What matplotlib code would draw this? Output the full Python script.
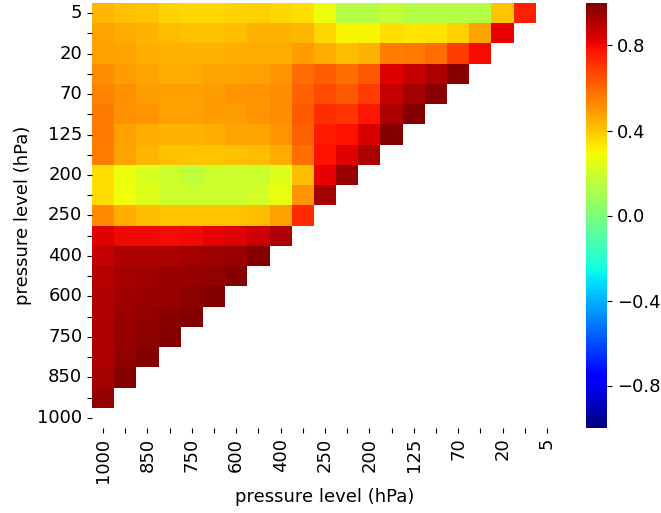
import numpy as np
import matplotlib
matplotlib.use("Agg")
import matplotlib.pyplot as plt
import seaborn as sns

# pressure levels, top row to bottom row (columns go the opposite way)
levels = [5, 10, 20, 50, 70, 100, 125, 150, 200, 225, 250, 300,
          400, 500, 600, 700, 750, 800, 850, 925, 1000]

# correlation values per row (row level), columns from 1000 hPa upward
r_5 = [0.43, 0.41, 0.40, 0.37, 0.36, 0.36, 0.37, 0.38, 0.36, 0.35,
       0.27, 0.14, 0.14, 0.17, 0.14, 0.14, 0.14, 0.14, 0.40, 0.75]
r_10 = [0.47, 0.46, 0.44, 0.42, 0.41, 0.41, 0.42, 0.44, 0.44, 0.43,
        0.36, 0.30, 0.30, 0.35, 0.33, 0.34, 0.38, 0.47, 0.82]
r_20 = [0.48, 0.47, 0.45, 0.44, 0.44, 0.44, 0.45, 0.46, 0.46, 0.49,
        0.46, 0.42, 0.44, 0.55, 0.56, 0.59, 0.69, 0.79]
r_50 = [0.52, 0.49, 0.47, 0.46, 0.46, 0.47, 0.47, 0.48, 0.50, 0.59,
        0.62, 0.58, 0.63, 0.83, 0.875, 0.92, 0.98]
r_70 = [0.54, 0.51, 0.49, 0.48, 0.48, 0.49, 0.50, 0.50, 0.52, 0.61,
        0.66, 0.63, 0.69, 0.875, 0.93, 0.98]
r_100 = [0.56, 0.51, 0.50, 0.48, 0.48, 0.49, 0.49, 0.50, 0.52, 0.63,
         0.72, 0.71, 0.77, 0.915, 0.99]
r_125 = [0.56, 0.48, 0.46, 0.44, 0.44, 0.45, 0.47, 0.47, 0.50, 0.61,
         0.76, 0.78, 0.84, 0.99]
r_150 = [0.55, 0.47, 0.43, 0.41, 0.40, 0.40, 0.41, 0.42, 0.46, 0.58,
         0.775, 0.83, 0.915]
r_200 = [0.35, 0.27, 0.22, 0.19, 0.16, 0.19, 0.19, 0.19, 0.24, 0.42,
         0.82, 0.96]
r_225 = [0.35, 0.28, 0.24, 0.19, 0.19, 0.19, 0.19, 0.21, 0.26, 0.50,
         0.93]
r_250 = [0.53, 0.45, 0.42, 0.40, 0.40, 0.40, 0.40, 0.42, 0.48, 0.73]
r_300 = [0.83, 0.80, 0.80, 0.79, 0.80, 0.82, 0.83, 0.86, 0.915]
r_400 = [0.875, 0.915, 0.92, 0.92, 0.935, 0.94, 0.96, 0.985]
r_500 = [0.90, 0.935, 0.94, 0.95, 0.955, 0.965, 0.985]
r_600 = [0.91, 0.94, 0.95, 0.955, 0.975, 0.985]
r_700 = [0.91, 0.95, 0.965, 0.98, 0.99]
r_750 = [0.92, 0.955, 0.975, 0.99]
r_800 = [0.92, 0.965, 0.985]
r_850 = [0.93, 0.99]
r_925 = [0.96]
r_1000 = []

rows = [r_5, r_10, r_20, r_50, r_70, r_100, r_125, r_150, r_200, r_225,
        r_250, r_300, r_400, r_500, r_600, r_700, r_750, r_800, r_850,
        r_925, r_1000]

n = len(levels)
mat = np.full((n, n), np.nan)
for i, row in enumerate(rows):
    mat[i, :len(row)] = row

ylabels = [str(l) if i % 2 == 0 else "" for i, l in enumerate(levels)]
xlevels = levels[::-1]
xlabels = [str(l) if i % 2 == 0 else "" for i, l in enumerate(xlevels)]

W, H = 661, 513
fig = plt.figure(figsize=(W / 100, H / 100), dpi=100)
ax = fig.add_axes([92 / W, (H - 428) / H, 466 / W, 425 / H])
cax = fig.add_axes([586 / W, (H - 428) / H, 21 / W, 425 / H])

sns.heatmap(mat, ax=ax, cbar_ax=cax, cmap="jet", vmin=-1, vmax=1,
            xticklabels=xlabels, yticklabels=ylabels)

fs = 13
ax.set_xticks(np.arange(n) + 0.5)
ax.set_xticklabels(xlabels, rotation=90, fontsize=fs)
ax.set_yticks(np.arange(n) + 0.5)
ax.set_yticklabels(ylabels, rotation=0, fontsize=fs)
ax.set_xlabel("pressure level (hPa)", fontsize=fs)
ax.set_ylabel("pressure level (hPa)", fontsize=fs)

cax.set_yticks([-0.8, -0.4, 0.0, 0.4, 0.8])
cax.tick_params(labelsize=fs)

fig.savefig("out.png", dpi=100)
